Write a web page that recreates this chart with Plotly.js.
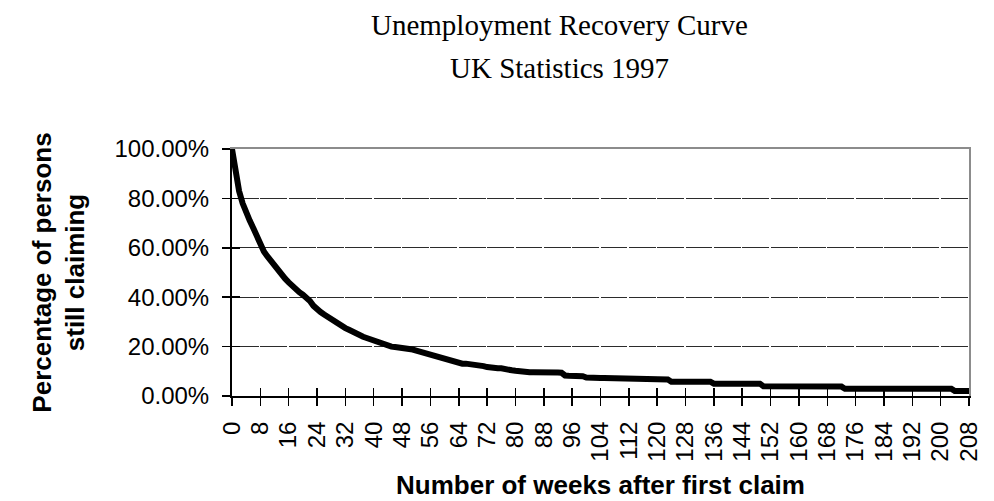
<!DOCTYPE html>
<html>
<head>
<meta charset="utf-8">
<script src="https://cdn.plot.ly/plotly-3.0.1.min.js"></script>
<style>
  html, body { margin: 0; padding: 0; background: #ffffff; }
  #chart { width: 994px; height: 501px; }
</style>
</head>
<body>
<div id="chart"></div>
<script>
// Share of claimants still claiming, by week after the first claim (percent)
const stillClaiming = [
  100, 90, 83, 78, 74, 71, 68, 64.5, 61, 58.5,               // weeks 0-9
  56.5, 54.5, 52.5, 51, 49, 47.5, 46, 44.5, 43.5, 42,       // 10-19
  41, 40, 38.5, 36.5, 35, 34, 33, 32, 31, 30,               // 20-29
  29, 28.3, 27.5, 26.8, 26, 25.2, 24.5, 24, 23.5, 23,       // 30-39
  22, 21.5, 21, 20.7, 20.3, 20, 19.8, 19.7, 19.7, 19.5,     // 40-49
  19.2, 18.8, 18.4, 18, 17.6, 17.2, 16.8, 16.3, 15.8, 15.3, // 50-59
  14.8, 14.3, 13.8, 13.4, 13.2, 13.1, 13.1, 13, 12.8, 12.6, // 60-69
  12.4, 12.1, 11.7, 11.4, 11.3, 11.2, 11.2, 11.1, 10.9, 10.4, // 70-79
  10.2, 9.9, 9.7, 9.6, 9.6, 9.6, 9.5, 9.5, 9.5, 9.5,        // 80-89
  9.5, 9.5, 9.5, 9.4, 8.3, 8.2, 8.2, 8.1, 8.1, 8.0,         // 90-99
  7.5, 7.3, 7.3, 7.3, 7.3, 7.3, 7.3, 7.3, 7.2, 6.8,         // 100-109
  6.7, 6.7, 6.7, 6.7, 6.7, 6.7, 6.7, 6.7, 6.7, 6.7,         // 110-119
  6.7, 6.7, 6.7, 6.7, 5.8, 5.8, 5.8, 5.8, 5.8, 5.8,         // 120-129
  5.8, 5.8, 5.8, 5.8, 5.8, 5.8, 5.0, 5.0, 5.0, 5.0,         // 130-139
  5.0, 5.0, 5.0, 5.0, 5.0, 5.0, 5.0, 5.0, 5.0, 5.0,         // 140-149
  3.9, 3.9, 3.9, 3.9, 3.9, 3.9, 3.9, 3.9, 3.9, 3.9,         // 150-159
  3.8, 3.8, 3.8, 3.8, 3.8, 3.8, 3.8, 3.8, 3.8, 3.8,         // 160-169
  3.8, 3.8, 3.8, 2.95, 2.95, 2.95, 2.95, 2.95, 2.95, 2.95,  // 170-179
  2.95, 2.95, 2.95, 2.95, 2.95, 2.95, 2.95, 2.95, 2.95, 2.95, // 180-189
  2.95, 2.95, 2.95, 2.95, 2.95, 2.95, 2.95, 2.95, 2.95, 2.95, // 190-199
  2.95, 2.95, 2.95, 2.95, 2.0, 2.0, 2.0, 2.0, 2.0           // 200-208
];

// One point per week, starting at week 0
const weeks = stillClaiming.map((_, i) => i);

const weekTicks = [0, 8, 16, 24, 32, 40, 48, 56, 64, 72, 80, 88, 96, 104,
                   112, 120, 128, 136, 144, 152, 160, 168, 176, 184, 192, 200, 208];
const percentTicks = [0, 20, 40, 60, 80, 100];
const percentLabels = ['0.00%', '20.00%', '40.00%', '60.00%', '80.00%', '100.00%'];

const chartTitle = 'Unemployment Recovery Curve';
const chartSubtitle = 'UK Statistics 1997';
const xTitle = 'Number of weeks after first claim';
const yTitle = 'Percentage of persons<br>still claiming';

const sans = 'Liberation Sans, Arial, sans-serif';
const serif = 'Liberation Serif, Times New Roman, serif';

const curve = {
  x: weeks,
  y: stillClaiming,
  type: 'scatter',
  mode: 'lines',
  line: { color: '#000000', width: 6 },
  hoverinfo: 'x+y'
};

// empty traces so the overlay axes (inner tick halves, grey frame) get drawn
const tickOverlay = { x: [], y: [], type: 'scatter', mode: 'lines', xaxis: 'x2', yaxis: 'y2', hoverinfo: 'skip' };
const frameOverlay = { x: [], y: [], type: 'scatter', mode: 'lines', xaxis: 'x3', yaxis: 'y3', hoverinfo: 'skip' };

const xRange = [0, 208];
const yRange = [0, 100];

const layout = {
  width: 994,
  height: 501,
  margin: { l: 232, r: 25, t: 149, b: 105, pad: 0 },
  paper_bgcolor: '#ffffff',
  plot_bgcolor: '#ffffff',
  showlegend: false,
  xaxis: {
    range: xRange,
    fixedrange: true,
    tickmode: 'array',
    tickvals: weekTicks,
    tickangle: -90,
    ticks: 'outside',
    ticklen: 8,
    tickwidth: 1.5,
    tickcolor: '#000000',
    ticklabelstandoff: 6,
    tickfont: { family: sans, size: 24, color: '#000000' },
    showgrid: false,
    zeroline: false,
    showline: true,
    linecolor: '#000000',
    linewidth: 2,
    title: {
      text: xTitle,
      font: { family: sans, size: 26, color: '#000000', weight: 'bold' },
      standoff: 15
    }
  },
  yaxis: {
    range: yRange,
    fixedrange: true,
    tickmode: 'array',
    tickvals: percentTicks,
    ticktext: percentLabels,
    ticks: 'outside',
    ticklen: 8,
    tickwidth: 1.5,
    tickcolor: '#000000',
    ticklabelstandoff: 8,
    tickfont: { family: sans, size: 24, color: '#000000' },
    showgrid: true,
    gridcolor: '#2b2b2b',
    gridwidth: 1,
    griddash: '26.85px,1.5px',
    zeroline: false,
    showline: true,
    linecolor: '#000000',
    linewidth: 2,
    title: {
      text: yTitle,
      font: { family: sans, size: 26, color: '#000000', weight: 'bold' },
      standoff: 22
    }
  },
  // inner halves of the crossing tick marks
  xaxis2: {
    overlaying: 'x', anchor: 'y2', side: 'bottom',
    range: xRange, fixedrange: true,
    tickmode: 'array', tickvals: weekTicks,
    ticks: 'inside', ticklen: 8, tickwidth: 1.5, tickcolor: '#000000',
    showticklabels: false, showgrid: false, zeroline: false, showline: false
  },
  yaxis2: {
    overlaying: 'y', anchor: 'x2', side: 'left',
    range: yRange, fixedrange: true,
    tickmode: 'array', tickvals: percentTicks,
    ticks: 'inside', ticklen: 8, tickwidth: 1.5, tickcolor: '#000000',
    showticklabels: false, showgrid: false, zeroline: false, showline: false
  },
  // grey frame on the top and right of the plot area
  xaxis3: {
    overlaying: 'x', anchor: 'y3', side: 'top',
    range: xRange, fixedrange: true,
    ticks: '', showticklabels: false, showgrid: false, zeroline: false,
    showline: true, linecolor: '#8c8c8c', linewidth: 2
  },
  yaxis3: {
    overlaying: 'y', anchor: 'x3', side: 'right',
    range: yRange, fixedrange: true,
    ticks: '', showticklabels: false, showgrid: false, zeroline: false,
    showline: true, linecolor: '#8c8c8c', linewidth: 2
  },
  annotations: [
    {
      text: chartTitle, xref: 'paper', yref: 'paper',
      x: 0.445, y: 1.503, xanchor: 'center', yanchor: 'middle',
      showarrow: false,
      font: { family: serif, size: 29, color: '#000000' }
    },
    {
      text: chartSubtitle, xref: 'paper', yref: 'paper',
      x: 0.445, y: 1.326, xanchor: 'center', yanchor: 'middle',
      showarrow: false,
      font: { family: serif, size: 29, color: '#000000' }
    }
  ]
};

Plotly.newPlot('chart', [curve, tickOverlay, frameOverlay], layout, { displayModeBar: false, staticPlot: true });
</script>
</body>
</html>
